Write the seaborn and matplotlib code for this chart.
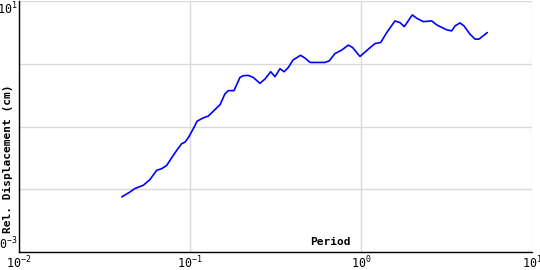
import matplotlib
matplotlib.use("Agg")
import matplotlib.pyplot as plt
import seaborn as sns
import pandas as pd
from matplotlib.ticker import FixedLocator, NullFormatter, FixedFormatter

period = [0.0399, 0.0446, 0.0476, 0.0533, 0.0583, 0.0638, 0.0683, 0.0731, 0.0782, 0.0836,
          0.0893, 0.0935, 0.0977, 0.1045, 0.110, 0.1197, 0.128, 0.140, 0.150, 0.160,
          0.1675, 0.1807, 0.196, 0.205, 0.219, 0.2344, 0.2564, 0.2745, 0.2965, 0.314,
          0.3357, 0.355, 0.376, 0.400, 0.443, 0.470, 0.504, 0.615, 0.653, 0.705,
          0.771, 0.843, 0.893, 0.986, 1.104, 1.208, 1.303, 1.414, 1.580, 1.690,
          1.792, 1.995, 2.117, 2.313, 2.592, 2.772, 3.17, 3.39, 3.55, 3.79,
          4.00, 4.34, 4.64, 4.90, 5.48]
displacement = [0.00755, 0.00906, 0.01026, 0.01157, 0.01426, 0.02003, 0.0213, 0.0240, 0.0319, 0.0416,
                0.0531, 0.0563, 0.0662, 0.0919, 0.1214, 0.1375, 0.1468, 0.1862, 0.2235, 0.3305,
                0.3728, 0.3728, 0.606, 0.645, 0.652, 0.606, 0.487, 0.572, 0.746, 0.622,
                0.833, 0.746, 0.873, 1.145, 1.364, 1.232, 1.049, 1.049, 1.116, 1.457,
                1.650, 1.981, 1.814, 1.306, 1.711, 2.10, 2.178, 3.14, 4.81, 4.52,
                3.91, 6.0, 5.31, 4.69, 4.81, 4.16, 3.47, 3.34, 4.01, 4.48,
                4.01, 2.96, 2.47, 2.47, 3.14]

x_decades = [1e-2, 1e-1, 1e0, 1e1]
x_labels = ["$10^{-2}$", "$10^{-1}$", "$10^{0}$", "$10^{1}$"]
y_label_ticks = [1e-3, 1e1]
y_labels = ["$10^{-3}$", "$10^{1}$"]
y_grid = [1e-2, 1e-1, 1e0]

sns.set_style("white")
plt.rcParams['font.family'] = ['DejaVu Sans Mono']
plt.rcParams['mathtext.default'] = 'regular'
plt.rcParams['mathtext.fontset'] = 'custom'
plt.rcParams['mathtext.rm'] = 'DejaVu Sans Mono'
plt.rcParams['mathtext.it'] = 'DejaVu Sans Mono'
for k in ['text.color', 'axes.labelcolor', 'xtick.color', 'ytick.color',
          'xtick.labelcolor', 'ytick.labelcolor']:
    plt.rcParams[k] = 'black'

df = pd.DataFrame({"Period": period, "Disp": displacement})

fig = plt.figure(figsize=(5.4, 2.7), dpi=100)
ax = fig.add_axes([19/540, 18/270, 513/540, 251/270])
sns.lineplot(data=df, x="Period", y="Disp", ax=ax, color="#0000ff", linewidth=1.2, sort=False)
ax.set_xscale("log")
ax.set_yscale("log")
ax.set_xlim(1e-2, 1e1)
ax.set_ylim(1e-3, 1e1)

ax.xaxis.set_major_locator(FixedLocator(x_decades))
ax.xaxis.set_major_formatter(FixedFormatter(x_labels))
ax.xaxis.set_minor_locator(FixedLocator([]))
ax.yaxis.set_major_locator(FixedLocator(y_label_ticks))
ax.yaxis.set_major_formatter(FixedFormatter(y_labels))
ax.yaxis.set_minor_locator(FixedLocator(y_grid))
ax.yaxis.set_minor_formatter(NullFormatter())

ax.grid(True, which="major", color="#d9d9d9", linewidth=1)
ax.grid(True, which="minor", axis="y", color="#d9d9d9", linewidth=1)
ax.tick_params(axis="both", which="major", direction="in", length=4, width=1,
               color="black", labelcolor="black", labelsize=8.5, pad=2)
ax.tick_params(axis="y", which="major", pad=1)
ax.tick_params(axis="y", which="minor", length=0)
for lbl, va in zip(ax.get_yticklabels(), ["bottom", "top"]):
    lbl.set_verticalalignment(va)

for side in ["top", "right"]:
    ax.spines[side].set_visible(False)
for side in ["left", "bottom"]:
    ax.spines[side].set_color("black")
    ax.spines[side].set_linewidth(1)

ax.set_xlabel("Period", fontsize=8, fontweight="bold", color="black", ha="right", va="bottom")
ax.xaxis.set_label_coords(0.647, 0.02)
ax.set_ylabel("Rel. Displacement (cm)", fontsize=8, fontweight="bold", color="black", va="center")
ax.yaxis.set_label_coords(-0.021, 0.37)

fig.savefig("out.png", dpi=100, facecolor="white")
